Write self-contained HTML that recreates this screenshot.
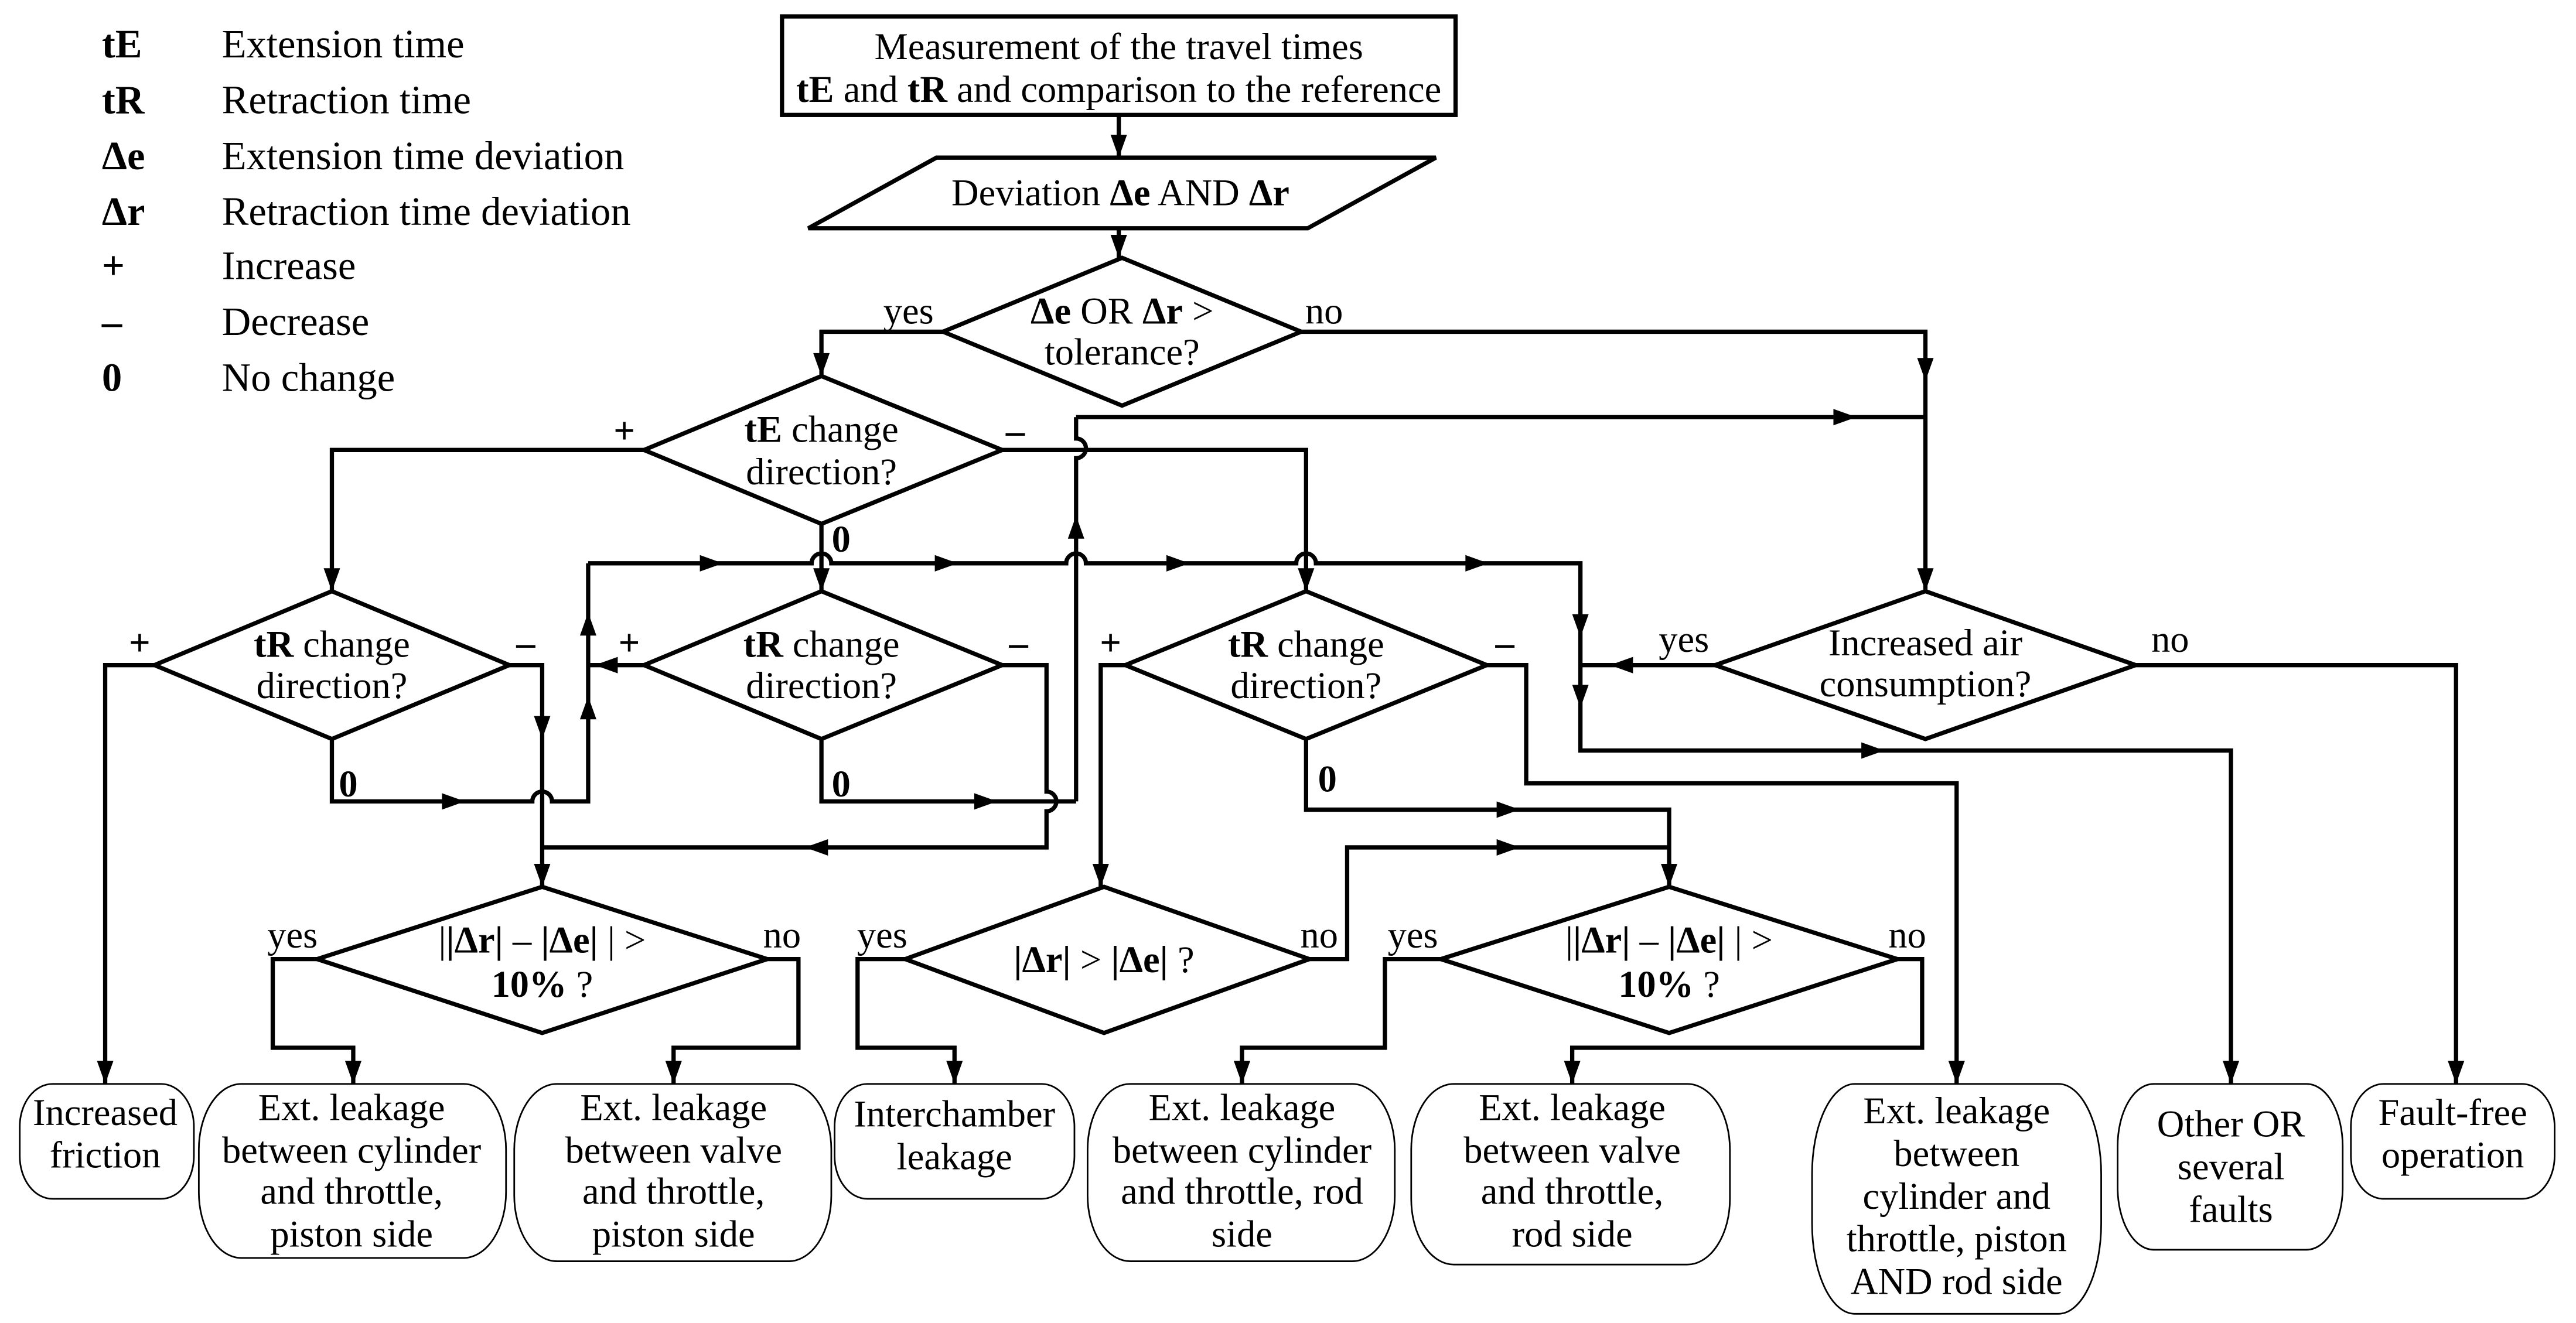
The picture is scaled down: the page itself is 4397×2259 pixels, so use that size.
<!DOCTYPE html>
<html><head><meta charset="utf-8"><style>
html,body{margin:0;padding:0;background:#fff}
svg{display:block}
svg text{font-family:"Liberation Serif","DejaVu Serif",serif;font-size:23px;fill:#000}
.b{font-weight:bold}
.m{text-anchor:middle}
svg text.lg{font-size:24.5px}
</style></head><body>
<svg width="4397" height="2259" viewBox="0 0 1568 805.6" xmlns="http://www.w3.org/2000/svg" font-family="Liberation Serif, DejaVu Serif, serif">
<rect width="1568" height="806" fill="#fff"/>
<g font-family="Liberation Serif, serif">
<text class="lg b" x="62" y="35">tE</text><text class="lg" x="135" y="35">Extension time</text>
<text class="lg b" x="62" y="69">tR</text><text class="lg" x="135" y="69">Retraction time</text>
<text class="lg b" x="62" y="103">Δe</text><text class="lg" x="135" y="103">Extension time deviation</text>
<text class="lg b" x="62" y="137">Δr</text><text class="lg" x="135" y="137">Retraction time deviation</text>
<text class="lg b" x="62" y="170">+</text><text class="lg" x="135" y="170">Increase</text>
<text class="lg b" x="62" y="204">–</text><text class="lg" x="135" y="204">Decrease</text>
<text class="lg b" x="62" y="238">0</text><text class="lg" x="135" y="238">No change</text>
</g>
<g fill="none" stroke="#000" stroke-width="2.6" stroke-linejoin="miter">
<rect x="476" y="10" width="410" height="60"/>
<polygon points="570,96 874,96 796,139 492,139"/>
<polygon points="683,157 792,202 683,247 574,202"/>
<polygon points="500,229 610,274 500,319 392,274"/>
<polygon points="202,360 310,405 202,450 94,405"/>
<polygon points="500,360 610,405 500,450 392,405"/>
<polygon points="795,360 905,405 795,450 685,405"/>
<polygon points="1172,360 1300,405 1172,450 1044,405"/>
<polygon points="330,540 467,584 330,629 193,584"/>
<polygon points="672,540 797,584 672,629 551,584"/>
<polygon points="1016,540 1155,584 1016,629 877,584"/>
<path d="M681,70 V96 M681,139 V157"/>
<path d="M574,202 H500 V229"/>
<path d="M792,202 H1172 V360"/>
<path d="M655,254 H1172"/>
<path d="M655,254 V267 A6,6 0 0 1 655,279 V488"/>
<path d="M392,274 H202 V360"/>
<path d="M610,274 H795 V360"/>
<path d="M500,319 V360"/>
<path d="M358,343 H494 A6,6 0 0 1 506,343 H649 A6,6 0 0 1 661,343 H789 A6,6 0 0 1 801,343 H962 V457 H1358 V660"/>
<path d="M1044,405 H962"/>
<path d="M1300,405 H1495 V660"/>
<path d="M94,405 H64 V660"/>
<path d="M310,405 H330 V540"/>
<path d="M202,450 V488 H324 A6,6 0 0 1 336,488 H358 V343"/>
<path d="M392,405 H358"/>
<path d="M610,405 H637 V482 A6,6 0 0 1 637,494 V516 H330"/>
<path d="M500,450 V488 H655"/>
<path d="M685,405 H670 V540"/>
<path d="M905,405 H929 V477 H1191 V660"/>
<path d="M795,450 V493 H1016 V540"/>
<path d="M797,584 H820 V516 H1016"/>
<path d="M193,584 H166 V638 H215 V660"/>
<path d="M467,584 H486 V638 H410 V660"/>
<path d="M551,584 H522 V638 H581 V660"/>
<path d="M877,584 H843 V638 H756 V660"/>
<path d="M1155,584 H1170 V638 H957 V660"/>
</g>
<g fill="#000">
<polygon points="676,82 686,82 681,96"/>
<polygon points="676,143 686,143 681,157"/>
<polygon points="495,215 505,215 500,229"/>
<polygon points="1167,218 1177,218 1172,232"/>
<polygon points="1167,346 1177,346 1172,360"/>
<polygon points="1116,249 1116,259 1130,254"/>
<polygon points="197,346 207,346 202,360"/>
<polygon points="790,346 800,346 795,360"/>
<polygon points="495,346 505,346 500,360"/>
<polygon points="426,338 426,348 440,343"/>
<polygon points="569,338 569,348 583,343"/>
<polygon points="710,338 710,348 724,343"/>
<polygon points="892,338 892,348 906,343"/>
<polygon points="957,374 967,374 962,388"/>
<polygon points="353,387 363,387 358,373"/>
<polygon points="353,438 363,438 358,424"/>
<polygon points="376,400 376,410 362,405"/>
<polygon points="650,328 660,328 655,314"/>
<polygon points="325,436 335,436 330,450"/>
<polygon points="325,526 335,526 330,540"/>
<polygon points="269,483 269,493 283,488"/>
<polygon points="593,483 593,493 607,488"/>
<polygon points="504,511 504,521 490,516"/>
<polygon points="665,526 675,526 670,540"/>
<polygon points="994,400 994,410 980,405"/>
<polygon points="957,417 967,417 962,431"/>
<polygon points="1133,452 1133,462 1147,457"/>
<polygon points="1011,526 1021,526 1016,540"/>
<polygon points="911,488 911,498 925,493"/>
<polygon points="911,511 911,521 925,516"/>
<polygon points="59,646 69,646 64,660"/>
<polygon points="210,646 220,646 215,660"/>
<polygon points="405,646 415,646 410,660"/>
<polygon points="576,646 586,646 581,660"/>
<polygon points="751,646 761,646 756,660"/>
<polygon points="952,646 962,646 957,660"/>
<polygon points="1186,646 1196,646 1191,660"/>
<polygon points="1353,646 1363,646 1358,660"/>
<polygon points="1490,646 1500,646 1495,660"/>
</g>
<g fill="none" stroke="#000" stroke-width="1">
<rect x="12" y="660" width="106" height="70" rx="20" ry="26"/>
<rect x="121" y="660" width="187" height="106" rx="26" ry="40"/>
<rect x="313" y="660" width="193" height="108" rx="26" ry="40"/>
<rect x="508" y="660" width="146" height="70" rx="20" ry="26"/>
<rect x="662" y="660" width="187" height="108" rx="26" ry="40"/>
<rect x="859" y="660" width="194" height="110" rx="26" ry="40"/>
<rect x="1103" y="660" width="176" height="140" rx="26" ry="55"/>
<rect x="1289" y="660" width="137" height="101" rx="22" ry="38"/>
<rect x="1431" y="660" width="124" height="70" rx="20" ry="26"/>
</g>
<g font-family="Liberation Serif, serif">
<text x="681" y="36" class="m">Measurement of the travel times</text>
<text x="681" y="62" class="m"><tspan class="b">tE</tspan> and <tspan class="b">tR</tspan> and comparison to the reference</text>
<text x="682" y="125" class="m">Deviation <tspan class="b">Δe</tspan> AND <tspan class="b">Δr</tspan></text>
<text x="683" y="197" class="m"><tspan class="b">Δe</tspan> OR <tspan class="b">Δr</tspan> &gt;</text>
<text x="683" y="222" class="m">tolerance?</text>
<text x="500" y="269" class="m"><tspan class="b">tE</tspan> change</text>
<text x="500" y="295" class="m">direction?</text>
<text x="202" y="400" class="m"><tspan class="b">tR</tspan> change</text>
<text x="202" y="425" class="m">direction?</text>
<text x="500" y="400" class="m"><tspan class="b">tR</tspan> change</text>
<text x="500" y="425" class="m">direction?</text>
<text x="795" y="400" class="m"><tspan class="b">tR</tspan> change</text>
<text x="795" y="425" class="m">direction?</text>
<text x="1172" y="399" class="m">Increased air</text>
<text x="1172" y="424" class="m">consumption?</text>
<text x="330" y="580" class="m">|<tspan class="b">|Δr|</tspan> – <tspan class="b">|Δe|</tspan> | &gt;</text>
<text x="330" y="607" class="m"><tspan class="b">10%</tspan> ?</text>
<text x="672" y="592" class="m"><tspan class="b">|Δr|</tspan> &gt; <tspan class="b">|Δe|</tspan> ?</text>
<text x="1016" y="580" class="m">|<tspan class="b">|Δr|</tspan> – <tspan class="b">|Δe|</tspan> | &gt;</text>
<text x="1016" y="607" class="m"><tspan class="b">10%</tspan> ?</text>
<text x="553" y="197" class="m">yes</text>
<text x="806" y="197" class="m">no</text>
<text x="380" y="270" class="m b">+</text>
<text x="618" y="270" class="m b">–</text>
<text x="512" y="336" class="m b">0</text>
<text x="85" y="399" class="m b">+</text>
<text x="320" y="399" class="m b">–</text>
<text x="383" y="399" class="m b">+</text>
<text x="620" y="399" class="m b">–</text>
<text x="676" y="399" class="m b">+</text>
<text x="916" y="399" class="m b">–</text>
<text x="212" y="485" class="m b">0</text>
<text x="512" y="485" class="m b">0</text>
<text x="808" y="482" class="m b">0</text>
<text x="1025" y="397" class="m">yes</text>
<text x="1321" y="397" class="m">no</text>
<text x="178" y="577" class="m">yes</text>
<text x="476" y="577" class="m">no</text>
<text x="537" y="577" class="m">yes</text>
<text x="803" y="577" class="m">no</text>
<text x="860" y="577" class="m">yes</text>
<text x="1161" y="577" class="m">no</text>
<text x="64" y="685" class="m">Increased</text>
<text x="64" y="711" class="m">friction</text>
<text x="214" y="682" class="m">Ext. leakage</text>
<text x="214" y="708" class="m">between cylinder</text>
<text x="214" y="733" class="m">and throttle,</text>
<text x="214" y="759" class="m">piston side</text>
<text x="410" y="682" class="m">Ext. leakage</text>
<text x="410" y="708" class="m">between valve</text>
<text x="410" y="733" class="m">and throttle,</text>
<text x="410" y="759" class="m">piston side</text>
<text x="581" y="686" class="m">Interchamber</text>
<text x="581" y="712" class="m">leakage</text>
<text x="756" y="682" class="m">Ext. leakage</text>
<text x="756" y="708" class="m">between cylinder</text>
<text x="756" y="733" class="m">and throttle, rod</text>
<text x="756" y="759" class="m">side</text>
<text x="957" y="682" class="m">Ext. leakage</text>
<text x="957" y="708" class="m">between valve</text>
<text x="957" y="733" class="m">and throttle,</text>
<text x="957" y="759" class="m">rod side</text>
<text x="1191" y="684" class="m">Ext. leakage</text>
<text x="1191" y="710" class="m">between</text>
<text x="1191" y="736" class="m">cylinder and</text>
<text x="1191" y="762" class="m">throttle, piston</text>
<text x="1191" y="788" class="m">AND rod side</text>
<text x="1358" y="692" class="m">Other OR</text>
<text x="1358" y="718" class="m">several</text>
<text x="1358" y="744" class="m">faults</text>
<text x="1493" y="685" class="m">Fault-free</text>
<text x="1493" y="711" class="m">operation</text>
</g>
</svg>
</body></html>
